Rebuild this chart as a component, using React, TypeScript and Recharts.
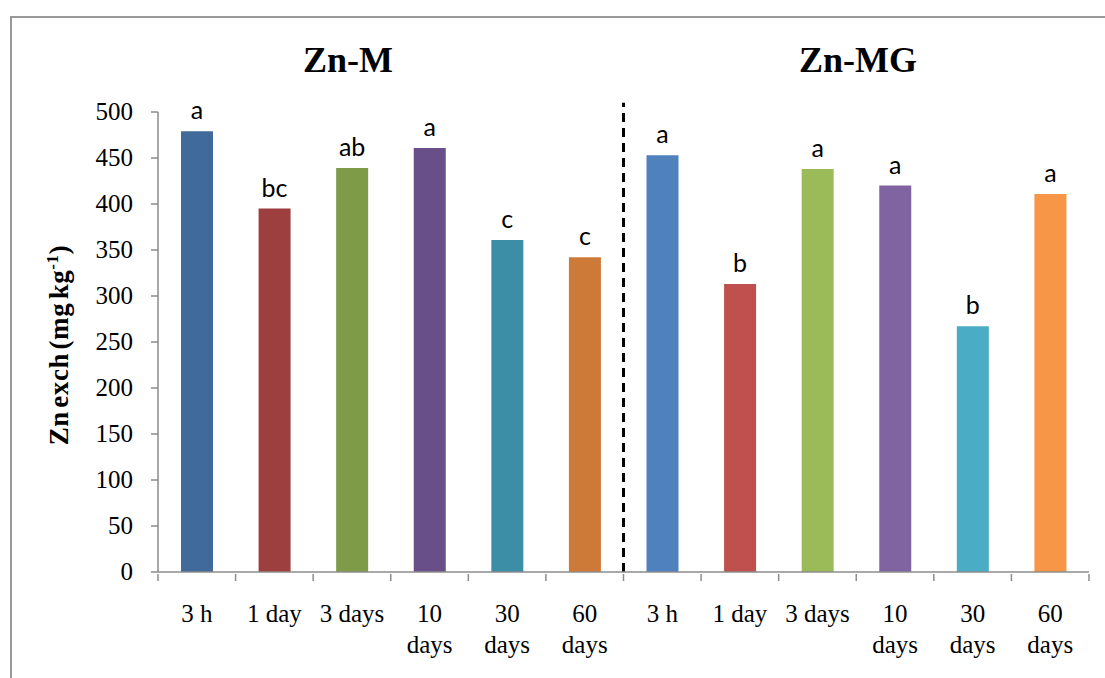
import React from 'react';
import { BarChart, Bar, XAxis, YAxis, Cell, LabelList, ReferenceLine } from 'recharts';

const groups = ['Zn-M', 'Zn-MG'];
const categories = ['3 h', '1 day', '3 days', '10 days', '30 days', '60 days'];
const categoryLines: string[][] = [['3 h'], ['1 day'], ['3 days'], ['10', 'days'], ['30', 'days'], ['60', 'days']];
const znM = [479, 395, 439, 461, 361, 342];
const znMG = [453, 313, 438, 420, 267, 411];
const lettersM = ['a', 'bc', 'ab', 'a', 'c', 'c'];
const lettersMG = ['a', 'b', 'a', 'a', 'b', 'a'];
const colorsM = ['#3f6a9a', '#9d3f3e', '#7e9b48', '#684f88', '#3b8ea5', '#cd7a38'];
const colorsMG = ['#4f81bd', '#c0504d', '#9bbb59', '#8064a2', '#4bacc6', '#f79646'];
const yTicks = [0, 50, 100, 150, 200, 250, 300, 350, 400, 450, 500];
const yLabel = 'Zn exch (mg kg';
const yLabelSup = '-1';

const data = [
  ...categories.map((c, i) => ({ pos: i + 0.5, cat: c, value: znM[i], letter: lettersM[i], color: colorsM[i] })),
  ...categories.map((c, i) => ({ pos: i + 6.5, cat: c, value: znMG[i], letter: lettersMG[i], color: colorsMG[i] })),
];
const xTicks: number[] = [];
for (let i = 0; i <= 24; i++) xTicks.push(i / 2);

const serif = 'Liberation Serif, Times New Roman, serif';

const renderXTick = (props: any) => {
  const { x, y, payload } = props;
  const v = payload.value as number;
  if (Number.isInteger(v)) {
    return <line x1={x} y1={y} x2={x} y2={y + 7} stroke="#8c8c8c" strokeWidth={1.5} />;
  }
  const idx = Math.floor(v) % 6;
  const lines = categoryLines[idx];
  return (
    <g>
      {lines.map((l, k) => (
        <text key={k} x={x} y={y + 48 + k * 31} textAnchor="middle" fontFamily={serif} fontSize={25} fill="#000">
          {l}
        </text>
      ))}
    </g>
  );
};

const renderYTick = (props: any) => {
  const { x, y, payload } = props;
  return (
    <g>
      <text x={x} y={y + 8} textAnchor="end" fontFamily={serif} fontSize={25} fill="#000">
        {String(payload.value)}
      </text>
    </g>
  );
};

export default function App() {
  return (
    <div style={{ position: 'absolute', left: 0, top: 0, width: 1105, height: 678, overflow: 'hidden', background: '#fff' }}>
      <div style={{ position: 'absolute', left: 10, top: 16, width: 1300, height: 900, borderTop: '2px solid #999', borderLeft: '2px solid #999' }} />
      <div style={{ position: 'absolute', left: 0, top: 0 }}>
        <BarChart width={1105} height={678} data={data} margin={{ top: 112, right: 16, left: 98, bottom: 16 }}>
          <XAxis
            dataKey="pos"
            type="number"
            domain={[0, 12]}
            ticks={xTicks}
            interval={0}
            tickSize={0}
            tickLine={false}
            axisLine={{ stroke: '#8c8c8c', strokeWidth: 1.5 }}
            tick={renderXTick}
            height={90}
            allowDecimals
          />
          <YAxis
            type="number"
            domain={[0, 500]}
            ticks={yTicks}
            interval={0}
            width={60}
            tickSize={7}
            tickMargin={18}
            axisLine={{ stroke: '#8c8c8c', strokeWidth: 1.5 }}
            tickLine={{ stroke: '#8c8c8c', strokeWidth: 1.5 }}
            tick={renderYTick}
          />
          <ReferenceLine
            segment={[{ x: 6, y: 0 }, { x: 6, y: 510 }]}
            ifOverflow="visible"
            stroke="#000"
            strokeWidth={3}
            strokeDasharray="9 6"
          />
          <Bar dataKey="value" barSize={32} isAnimationActive={false}>
            {data.map((d, i) => (
              <Cell key={i} fill={d.color} />
            ))}
            <LabelList
              dataKey="letter"
              position="top"
              offset={12}
              style={{ fontFamily: 'Lato, Open Sans, sans-serif', fontSize: 25, fill: '#000' }}
            />
          </Bar>
        </BarChart>
      </div>
      <svg width={1105} height={678} style={{ position: 'absolute', left: 0, top: 0, pointerEvents: 'none' }}>
        <text x={348} y={72} textAnchor="middle" fontFamily={serif} fontWeight="bold" fontSize={36} fill="#000">{groups[0]}</text>
        <text x={858} y={72} textAnchor="middle" fontFamily={serif} fontWeight="bold" fontSize={36} fill="#000">{groups[1]}</text>
        <text transform="translate(68,345) rotate(-90)" textAnchor="middle" fontFamily={serif} fontWeight="bold" fontSize={27} fill="#000" letterSpacing={0.6} wordSpacing={-4}>
          {yLabel}
          <tspan fontSize={17} dy={-10}>{yLabelSup}</tspan>
          <tspan dy={10}>)</tspan>
        </text>
      </svg>
    </div>
  );
}
